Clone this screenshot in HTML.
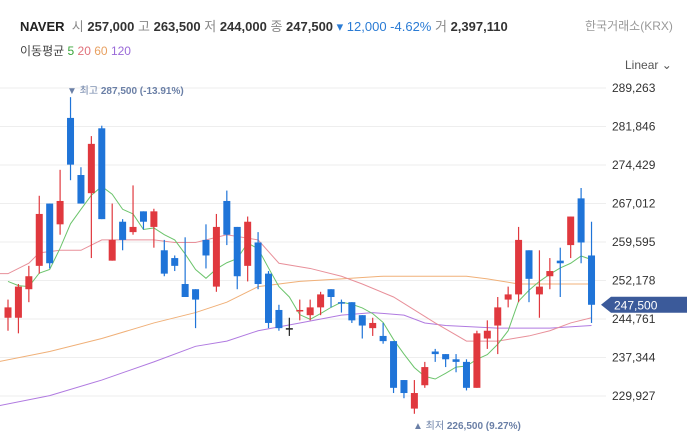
<!DOCTYPE html>
<html><head><meta charset="utf-8">
<style>
html,body{margin:0;padding:0;background:#fff;}
body{width:687px;height:437px;overflow:hidden;position:relative;font-family:"Liberation Sans","Noto Sans CJK KR",sans-serif;}
.t{position:absolute;white-space:nowrap;}
.n{font-weight:bold;color:#333;}
</style></head><body>
<div class="t" style="left:20px;top:16px;font-size:13px;color:#222;">
<b>NAVER</b>&nbsp;&nbsp;<span style="color:#888">시</span> <span class="n">257,000</span> <span style="color:#888">고</span> <span class="n">263,500</span> <span style="color:#888">저</span> <span class="n">244,000</span> <span style="color:#888">종</span> <span class="n">247,500</span> <span style="color:#2a7bd4">▾ 12,000 -4.62%</span> <span style="color:#888">거</span> <span class="n">2,397,110</span></div>
<div class="t" style="left:20px;top:42px;font-size:12px;color:#444;">이동평균 <span style="color:#3aa53a">5</span> <span style="color:#e0707a">20</span> <span style="color:#e8a060">60</span> <span style="color:#9a6ad8">120</span></div>
<div class="t" style="left:585px;top:17px;font-size:12px;color:#999;">한국거래소(KRX)</div>
<div class="t" style="left:625px;top:58px;font-size:12px;color:#555;">Linear &#8964;</div>
<svg id="chart" width="687" height="437" style="position:absolute;left:0;top:0"></svg>
<script>
const opens =[245000,245000,250500,255000,267000,263000,283500,272500,269000,281500,256000,263500,261500,265500,262500,258000,256500,251500,250500,260000,251000,267500,262500,255000,259500,253500,246500,243000,246500,245500,247000,250500,248000,248000,245500,243000,241500,240500,233000,227500,232000,238500,238000,237000,236500,231500,241000,243500,248500,249500,258000,249500,253000,256000,259000,268000,257000];
const highs =[248500,251500,255000,268500,267000,273500,287500,274000,280000,282000,267000,264000,270500,265500,266000,260000,257000,260500,250500,263000,265000,269500,262500,264500,261500,254000,247500,245000,248500,248500,250000,250500,248500,248000,245500,245000,244000,240500,233000,233000,236500,239000,238000,238000,237000,242500,244500,249000,251000,262500,258000,258000,256500,258500,264500,270000,263500];
const lows  =[242500,242000,248000,253500,254500,261000,271500,267000,256500,264000,256000,258000,261000,262000,258500,253000,254000,249000,243000,254500,250000,259000,250500,252000,250500,243000,242500,241500,244500,244500,245500,247000,246000,244000,241000,241500,240000,230500,229500,226500,231500,236500,235500,234500,231000,231500,239000,238000,247000,248000,248000,245000,250500,249000,256500,255500,244000];
const closes=[247000,251000,253000,265000,255500,267500,274500,267000,278500,264000,260000,260000,262500,263500,265500,253500,255000,249000,248500,257000,262500,261000,253000,263500,251500,244000,243000,243000,246500,247000,249500,249000,248000,244500,243500,244000,240500,231500,230500,230500,235500,238000,237000,236500,231500,242000,242500,247000,249500,260000,252500,251000,254000,255500,264500,259500,247500];
const prevCloses=[255000,254000,252000,252000];
const ma20Idx=[-1,0,2,3,5,7,9,14,16,18,21,24,26,29,32,34,37,39,41,44,47,50,52,54,56];
const ma20Val=[253500,253500,255500,257500,258000,258000,260000,260000,259500,259500,261000,260000,255500,254500,253000,251500,249000,246500,244000,240500,240500,241500,242500,244000,245000];
const ma60Idx=[-1,4,9,14,18,21,24,28,32,36,40,42,44,46,49,53,56];
const ma60Val=[236500,238500,241000,244000,246000,248000,251000,252000,252500,253000,253000,253000,253000,252500,251500,251500,251500];
const ma120Idx=[-1,4,9,14,18,21,24,28,32,35,38,40,42,47,52,56];
const ma120Val=[228000,230000,233000,236500,239500,240500,242500,244000,245500,246000,245500,244000,243500,243000,243000,243500];
const tickVals=[289263,281846,274429,267012,259595,252178,244761,237344,229927];
const tickLabels=["289,263","281,846","274,429","267,012","259,595","252,178","244,761","237,344","229,927"];
const lastPrice=247500, lastLabel="247,500";
const maxLabel="287,500 (-13.91%)", minLabel="226,500 (9.27%)";

const NS="http://www.w3.org/2000/svg";
const svg=document.getElementById('chart');
const Y0=88, K=(396-88)/(289263-229927);
function y(v){return Y0+(289263-v)*K;}
function x(i){return 8+i*10.42;}
function mk(tag,attrs,parent){const e=document.createElementNS(NS,tag);for(const k in attrs)e.setAttribute(k,attrs[k]);(parent||svg).appendChild(e);return e;}
tickVals.forEach((v,i)=>{
  const g=mk('line',{x1:0,x2:606,y1:y(v),y2:y(v),stroke:'#eeeeee','stroke-width':1});
  
  
  const t=mk('text',{x:612,y:y(v)+4,'font-size':12,fill:'#333','font-family':'Liberation Sans, sans-serif'});
  t.textContent=tickLabels[i];
  
  
});
const clip=mk('clipPath',{id:'pc'});mk('rect',{x:0,y:70,width:604,height:367},clip);
const plot=mk('g',{'clip-path':'url(#pc)'});
function line(idx,vals,color,name){
  const p=mk('polyline',{points:idx.map((d,i)=>x(d)+','+y(vals[i])).join(' '),fill:'none',stroke:color,'stroke-width':1},plot);
  
  
}
line(ma120Idx,ma120Val,'#b07ae0','ma120-line');
line(ma60Idx,ma60Val,'#f0b078','ma60-line');
line(ma20Idx,ma20Val,'#e8909a','ma20-line');
const all=prevCloses.concat(closes);const m5i=[],m5v=[];
for(let i=0;i<closes.length;i++){let s=0;for(let k=0;k<5;k++)s+=all[i+4-k];m5i.push(i);m5v.push(s/5);}
line(m5i,m5v,'#6cc46c','ma5-line');
closes.forEach((c,i)=>{
  const o=opens[i];const col=c>o?'#e0383e':(c<o?'#1f74d8':(i===27?'#222':(i===28?'#e0383e':'#1f74d8')));
  const g=mk('g',{},plot);
  
  
  mk('line',{x1:x(i),x2:x(i),y1:y(highs[i]),y2:y(lows[i]),stroke:col,'stroke-width':1.2},g);
  const top=y(Math.max(o,c)),bot=y(Math.min(o,c));
  mk('rect',{x:x(i)-3.5,y:top,width:7,height:Math.max(1.5,bot-top),fill:col},g);
});
function ann(xx,yy,pre,txt,name){
  const t=mk('text',{x:xx,y:yy,'font-size':10,fill:'#6a7fa6','font-family':'Liberation Sans, Noto Sans CJK KR, sans-serif'});
  
  
  const a=mk('tspan',{},t);a.textContent=pre+' ';
  const b=mk('tspan',{'font-weight':'bold'},t);b.textContent=txt;
}
ann(67,94,'▼ 최고',maxLabel,'high-annotation');
ann(413,429,'▲ 최저',minLabel,'low-annotation');
const py=y(lastPrice);
const tag=mk('path',{d:`M601 ${py} L611 ${py-8} L687 ${py-8} L687 ${py+8} L611 ${py+8} Z`,fill:'#3b5a9a'});


const tt=mk('text',{x:614,y:py+4.5,'font-size':12,fill:'#fff','font-family':'Liberation Sans, sans-serif'});
tt.textContent=lastLabel;


</script>
</body></html>
